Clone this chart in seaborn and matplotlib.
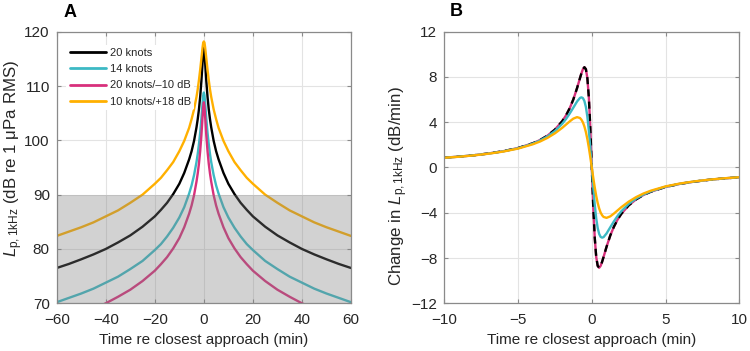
import numpy as np
import pandas as pd
import matplotlib
matplotlib.use("Agg")
import matplotlib.pyplot as plt
import seaborn as sns

# ---- panel A: received level vs time ----
t_a = [-60, -55, -50, -45, -40, -35, -30, -25, -20, -17.5, -15, -12.5, -10, -8, -6, -5, -4, -3, -2.5, -2,
       -1.5, -1, -0.5, -0.25, 0, 0.25, 0.5, 1, 1.5, 2, 2.5, 3, 4, 5, 6, 8, 10, 12.5, 15, 17.5,
       20, 25, 30, 35, 40, 45, 50, 55, 60]

lp_20kn = [76.5, 77.25, 78.1, 79.0, 80.0, 81.2, 82.5, 84.1, 86.0, 87.2, 88.5, 90.1, 92.0, 94.0, 96.5, 98.0,
           99.9, 102.4, 103.9, 105.7, 108.0, 110.9, 114.5, 116.2, 117.0, 116.2, 114.5, 110.9, 108.0, 105.7,
           103.9, 102.4, 99.9, 98.0, 96.5, 94.0, 92.0, 90.1, 88.5, 87.2, 86.0, 84.1, 82.5, 81.2, 80.0, 79.0,
           78.1, 77.25, 76.5]
lp_14kn = [70.2, 71.0, 71.8, 72.7, 73.8, 74.9, 76.3, 77.8, 79.8, 80.9, 82.3, 83.9, 85.8, 87.7, 90.2, 91.7,
           93.6, 96.0, 97.5, 99.3, 101.4, 104.0, 107.0, 108.3, 108.8, 108.3, 107.0, 104.0, 101.4, 99.3,
           97.5, 96.0, 93.6, 91.7, 90.2, 87.7, 85.8, 83.9, 82.3, 80.9, 79.8, 77.8, 76.3, 74.9, 73.8, 72.7,
           71.8, 71.0, 70.2]
lp_20kn_m10 = [np.nan, np.nan, np.nan, 69.0, 70.0, 71.2, 72.5, 74.1, 76.0, 77.2, 78.5, 80.1, 82.0, 84.0,
               86.5, 88.0, 89.9, 92.4, 93.9, 95.7, 98.0, 100.9, 104.5, 106.2, 107.0, 106.2, 104.5, 100.9,
               98.0, 95.7, 93.9, 92.4, 89.9, 88.0, 86.5, 84.0, 82.0, 80.1, 78.5, 77.2, 76.0, 74.1, 72.5,
               71.2, 70.0, 69.0, np.nan, np.nan, np.nan]
lp_10kn_p18 = [82.4, 83.2, 84.0, 84.9, 86.0, 87.1, 88.5, 90.0, 92.0, 93.1, 94.5, 96.0, 98.0, 99.9, 102.3,
               103.9, 105.7, 108.0, 109.4, 111.1, 113.0, 115.1, 117.2, 118.0, 118.2, 118.0, 117.2, 115.1,
               113.0, 111.1, 109.4, 108.0, 105.7, 103.9, 102.3, 99.9, 98.0, 96.0, 94.5, 93.1, 92.0, 90.0,
               88.5, 87.1, 86.0, 84.9, 84.0, 83.2, 82.4]

# ---- panel B: rate of change (dB/min) ----
t_b = [-10, -9, -8, -7, -6, -5, -4, -3.5, -3, -2.5, -2, -1.75, -1.5, -1.25, -1, -0.8, -0.7, -0.6, -0.5,
       -0.4, -0.3, -0.2, -0.1, 0, 0.1, 0.2, 0.3, 0.4, 0.5, 0.6, 0.7, 0.8, 1, 1.25, 1.5, 1.75, 2, 2.5, 3,
       3.5, 4, 5, 6, 7, 8, 9, 10]

dl_20kn = [0.87, 0.96, 1.08, 1.24, 1.44, 1.72, 2.14, 2.43, 2.82, 3.35, 4.10, 4.60, 5.23, 6.02, 7.01, 7.90,
           8.33, 8.69, 8.86, 8.69, 7.90, 6.20, 3.47, 0.0, -3.47, -6.20, -7.90, -8.69, -8.86, -8.69, -8.33,
           -7.90, -7.01, -6.02, -5.23, -4.60, -4.10, -3.35, -2.82, -2.43, -2.14, -1.72, -1.44, -1.24, -1.08,
           -0.96, -0.87]
dl_14kn = [0.86, 0.96, 1.08, 1.23, 1.43, 1.70, 2.11, 2.39, 2.75, 3.22, 3.87, 4.28, 4.76, 5.29, 5.83, 6.15,
           6.20, 6.13, 5.87, 5.35, 4.49, 3.28, 1.74, 0.0, -1.74, -3.28, -4.49, -5.35, -5.87, -6.13, -6.20,
           -6.15, -5.83, -5.29, -4.76, -4.28, -3.87, -3.22, -2.75, -2.39, -2.11, -1.70, -1.43, -1.23, -1.08,
           -0.96, -0.86]
# the -10 dB curve has the same slope as 20 knots, drawn under the dashed black line
dl_20kn_m10 = [0.87, 0.96, 1.08, 1.24, 1.44, 1.72, 2.14, 2.43, 2.82, 3.35, 4.10, 4.60, 5.23, 6.02, 7.01,
               7.90, 8.33, 8.69, 8.86, 8.69, 7.90, 6.20, 3.47, 0.0, -3.47, -6.20, -7.90, -8.69, -8.86, -8.69,
               -8.33, -7.90, -7.01, -6.02, -5.23, -4.60, -4.10, -3.35, -2.82, -2.43, -2.14, -1.72, -1.44,
               -1.24, -1.08, -0.96, -0.87]
dl_10kn_p18 = [0.86, 0.95, 1.07, 1.22, 1.41, 1.67, 2.05, 2.30, 2.62, 3.02, 3.51, 3.79, 4.07, 4.32, 4.45,
               4.37, 4.22, 3.98, 3.62, 3.13, 2.51, 1.76, 0.91, 0.0, -0.91, -1.76, -2.51, -3.13, -3.62, -3.98,
               -4.22, -4.37, -4.45, -4.32, -4.07, -3.79, -3.51, -3.02, -2.62, -2.30, -2.05, -1.67, -1.41,
               -1.22, -1.07, -0.95, -0.86]

labels = ["20 knots", "14 knots", "20 knots/\u201310 dB", "10 knots/+18 dB"]
colors = ["#000000", "#3cb9c4", "#d8307c", "#ffb000"]

sns.set_theme(style="whitegrid")
plt.rcParams['font.family'] = ['Liberation Sans', 'DejaVu Sans']
plt.rcParams['mathtext.fontset'] = 'custom'
plt.rcParams['mathtext.rm'] = 'Liberation Sans'
plt.rcParams['mathtext.it'] = 'Liberation Sans:italic'
plt.rcParams['axes.unicode_minus'] = True

txt = '#262626'
fig = plt.figure(figsize=(7.5, 3.51), dpi=100)
ax1 = fig.add_axes([0.0756, 0.1359, 0.3924, 0.7738])
ax2 = fig.add_axes([0.5924, 0.1359, 0.3933, 0.7738])

# panel A
for y, lab, c in zip([lp_20kn, lp_14kn, lp_20kn_m10, lp_10kn_p18], labels, colors):
    df = pd.DataFrame({'t': t_a, 'L': y}).dropna()
    sns.lineplot(data=df, x='t', y='L', ax=ax1, color=c, lw=1.7, label=lab, sort=False)
ax1.axhspan(70, 90, facecolor=(0.5, 0.5, 0.5), alpha=0.35, lw=0, zorder=3)
ax1.set_xlim(-60, 60)
ax1.set_ylim(70, 120)
ax1.set_xticks(range(-60, 61, 20))
ax1.set_yticks(range(70, 121, 10))
ax1.set_xlabel('Time re closest approach (min)', fontsize=11, color=txt, labelpad=4)
ax1.set_ylabel(r'$L_{\mathrm{p,1kHz}}$ (dB re 1 $\mathrm{\mu}$Pa RMS)', fontsize=12.2, color=txt)
ax1.yaxis.set_label_coords(-0.108, 0.535)
leg = ax1.legend(loc='upper left', bbox_to_anchor=(0.014, 0.972), fontsize=8, frameon=True,
                 facecolor='white', edgecolor='none', framealpha=1, handlelength=3.3,
                 handletextpad=0.3, labelspacing=0.55, borderaxespad=0.5, borderpad=0.3)
leg.set_zorder(5)
for h in leg.get_lines():
    h.set_linewidth(2.0)

# panel B
for y, c in zip([dl_20kn_m10, dl_20kn, dl_14kn, dl_10kn_p18],
                [colors[2], colors[0], colors[1], colors[3]]):
    sns.lineplot(x=t_b, y=y, ax=ax2, color=c, lw=1.7, sort=False)
ax2.lines[1].set_dashes([3.0, 2.2])
ax2.set_xlim(-10, 10)
ax2.set_ylim(-12, 12)
ax2.set_xticks([-10, -5, 0, 5, 10])
ax2.set_yticks(range(-12, 13, 4))
ax2.set_xlabel('Time re closest approach (min)', fontsize=11, color=txt, labelpad=4)
ax2.set_ylabel(r'Change in $L_{\mathrm{p,1kHz}}$ (dB/min)', fontsize=12.2, color=txt)
ax2.yaxis.set_label_coords(-0.115, 0.43)

for ax in (ax1, ax2):
    ax.set_facecolor('white')
    ax.grid(True, color='#e3e3e3', lw=0.8)
    ax.set_axisbelow(True)
    for s in ax.spines.values():
        s.set_visible(True)
        s.set_color('#8a8a8a')
        s.set_linewidth(0.9)
    ax.tick_params(direction='in', length=3, width=0.8, color='#8a8a8a',
                   labelsize=11, labelcolor=txt, pad=5, top=True, right=True,
                   bottom=True, left=True)
    ax.tick_params(axis='x', pad=7)

fig.text(0.094, 0.965, 'A', fontsize=13, fontweight='bold', ha='center', va='center', color='black')
fig.text(0.608, 0.968, 'B', fontsize=13, fontweight='bold', ha='center', va='center', color='black')

fig.savefig('out.png', dpi=100, facecolor='white')
